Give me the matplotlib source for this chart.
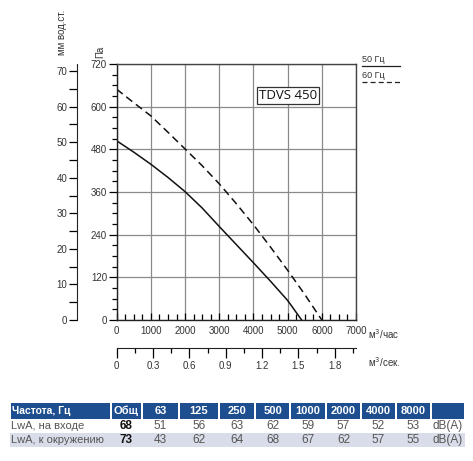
import matplotlib
matplotlib.use('Agg')
import matplotlib.pyplot as plt
from matplotlib.ticker import MultipleLocator
from matplotlib.patches import Rectangle

# fan curves (m3/h -> Pa)
flow_50 = [0, 500, 1000, 1500, 2000, 2500, 3000, 3500, 4000, 4500, 5000, 5410]
pres_50 = [504, 472, 438, 401, 361, 315, 263, 212, 161, 109, 55, 0]
flow_60 = [0, 500, 1000, 1500, 2000, 2500, 3000, 3500, 4000, 4500, 5000, 5500, 6000]
pres_60 = [649, 611, 574, 528, 481, 434, 383, 327, 268, 205, 140, 72, 0]

model = 'TDVS 450'

# sound table
tbl_header = ['Частота, Гц', 'Общ', '63', '125', '250', '500', '1000', '2000', '4000', '8000', '']
row_in = ['LwA, на входе', '68', '51', '56', '63', '62', '59', '57', '52', '53', 'dB(A)']
row_env = ['LwA, к окружению', '73', '43', '62', '64', '68', '67', '62', '57', '55', 'dB(A)']

W, H = 473, 461
fig = plt.figure(figsize=(W / 100, H / 100), dpi=100)
plt.rcParams['font.family'] = ['Liberation Sans', 'DejaVu Sans']


def fx(px):
    return px / W


def fy(py):
    return 1 - py / H


tick_col = '#333333'
grid_col = '#8a8a8a'

# main chart
x0, x1, ytop, ybot = 116.7, 356.0, 64.0, 320.0
ax = fig.add_axes([fx(x0), fy(ybot), fx(x1 - x0), (ybot - ytop) / H])
ax.set_xlim(0, 7000)
ax.set_ylim(0, 720)
ax.xaxis.set_major_locator(MultipleLocator(1000))
ax.xaxis.set_minor_locator(MultipleLocator(250))
ax.yaxis.set_major_locator(MultipleLocator(120))
ax.yaxis.set_minor_locator(MultipleLocator(30))
ax.grid(True, which='major', color=grid_col, lw=0.9)
ax.set_axisbelow(True)
for s in ax.spines.values():
    s.set_color('#444444')
    s.set_linewidth(1.0)
ax.spines['bottom'].set_color('#222222')
ax.spines['left'].set_color('#222222')
ax.tick_params(axis='x', which='major', direction='in', length=5, width=0.9,
               labelsize=7, labelcolor=tick_col, pad=4)
ax.tick_params(axis='x', which='minor', direction='in', length=4, width=0.9)
ax.tick_params(axis='y', which='major', direction='out', length=6, width=0.9,
               labelsize=7, labelcolor=tick_col, pad=1)
ax.tick_params(axis='y', which='minor', direction='out', length=3.5, width=0.9)
ax.set_xticklabels([f'{int(v)}' for v in ax.get_xticks()])

ax.plot(flow_50, pres_50, color='#111111', lw=1.1, solid_joinstyle='round')
ax.plot(flow_60, pres_60, color='#111111', lw=1.1, linestyle=(0, (5, 3)))

ax.text(0.595, 0.878, model, transform=ax.transAxes, fontsize=9.5,
        family=['Open Sans', 'DejaVu Sans'], va='center', ha='left', color='#111111',
        bbox=dict(boxstyle='square,pad=0.15', fc='white', ec='#333333', lw=0.9))

# mm water column axis
axm = fig.add_axes([fx(77), fy(ybot), 0.0001, (ybot - ytop) / H])
axm.set_ylim(0, 72)
axm.yaxis.set_major_locator(MultipleLocator(10))
axm.yaxis.set_minor_locator(MultipleLocator(5))
for k in ['top', 'right', 'bottom']:
    axm.spines[k].set_visible(False)
axm.spines['left'].set_color('#222222')
axm.set_xticks([])
axm.tick_params(axis='y', which='major', direction='out', length=6, width=0.9,
                labelsize=7, labelcolor=tick_col, pad=1)
axm.tick_params(axis='y', which='minor', direction='out', length=6, width=0.9)

# m3/s axis
axs = fig.add_axes([fx(x0), fy(348), fx(x1 - x0), 0.0001])
axs.set_xlim(0, 1.975)
axs.xaxis.set_major_locator(MultipleLocator(0.3))
axs.xaxis.set_minor_locator(MultipleLocator(0.15))
for k in ['top', 'right', 'left']:
    axs.spines[k].set_visible(False)
axs.spines['bottom'].set_color('#222222')
axs.set_yticks([])
axs.tick_params(axis='x', which='major', direction='out', length=7, width=0.9,
                labelsize=7, labelcolor=tick_col, pad=2)
axs.tick_params(axis='x', which='minor', direction='out', length=3.5, width=0.9)
axs.set_xticklabels(['0' if v == 0 else f'{v:.1f}' for v in axs.get_xticks()])

# axis titles
fig.text(fx(100), fy(52), 'Па', rotation=90, fontsize=7, color=tick_col, ha='center', va='center')
fig.text(fx(62), fy(32), 'мм вод.ст.', rotation=90, fontsize=7, color=tick_col, ha='center', va='center')
fig.text(fx(368), fy(334), 'м$^3$/час', fontsize=7, color=tick_col, ha='left', va='center')
fig.text(fx(368), fy(362), 'м$^3$/сек.', fontsize=7, color=tick_col, ha='left', va='center')

# legend at right
fig.text(fx(362), fy(60), '50 Гц', fontsize=6.5, color=tick_col, ha='left', va='center')
fig.text(fx(362), fy(76), '60 Гц', fontsize=6.5, color=tick_col, ha='left', va='center')
fig.add_artist(plt.Line2D([fx(362), fx(400)], [fy(66), fy(66)], color='#222222', lw=0.9))
fig.add_artist(plt.Line2D([fx(362), fx(400)], [fy(82), fy(82)], color='#222222', lw=0.9,
                          linestyle=(0, (4, 2.5))))

# table
col_edges = [10, 111, 142, 179, 219, 255, 290, 326, 361, 396, 431, 465]
row_tops = [403, 419, 433]
row_h = [15.5, 14, 14]
hdr_col = '#1d4e8f'
alt_col = '#d9dde9'
txt_col = '#555555'
for i in range(len(tbl_header)):
    l, r = col_edges[i], col_edges[i + 1]
    fig.add_artist(Rectangle((fx(l + 1), fy(row_tops[0] + row_h[0])), fx(r - l - 2), row_h[0] / H,
                             fc=hdr_col, ec='none'))
    if tbl_header[i]:
        if i == 0:
            fig.text(fx(l + 2), fy(row_tops[0] + row_h[0] / 2), tbl_header[i], fontsize=7.5,
                     weight='bold', color='white', ha='left', va='center')
        else:
            fig.text(fx((l + r) / 2), fy(row_tops[0] + row_h[0] / 2), tbl_header[i], fontsize=8,
                     weight='bold', color='white', ha='center', va='center')
fig.add_artist(Rectangle((fx(10), fy(row_tops[2] + row_h[2])), fx(455), row_h[2] / H,
                         fc=alt_col, ec='none'))
for j, row in enumerate([row_in, row_env]):
    yc = fy(row_tops[j + 1] + row_h[j + 1] / 2)
    for i, v in enumerate(row):
        l, r = col_edges[i], col_edges[i + 1]
        if i == 0:
            fig.text(fx(l + 1), yc, v, fontsize=8, color=txt_col, ha='left', va='center')
        elif i == 1:
            fig.text(fx((l + r) / 2), yc, v, fontsize=8.5, weight='bold', color='#111111',
                     ha='center', va='center')
        else:
            fig.text(fx((l + r) / 2), yc, v, fontsize=8.5, color=txt_col, ha='center', va='center')

fig.savefig('out.png', dpi=100)
